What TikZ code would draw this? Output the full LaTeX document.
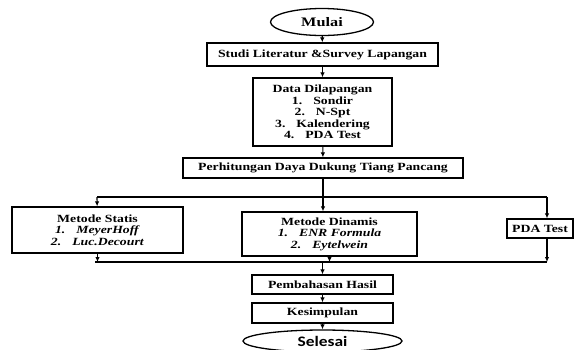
\documentclass[tikz,border=0pt]{standalone}
\usepackage{fontspec}
\setmainfont{Liberation Serif}[FakeStretch=1.25]
\newfontfamily\carlito{Carlito}[FakeStretch=1.2]
\usetikzlibrary{shapes.geometric,arrows.meta}
\begin{document}
\begin{tikzpicture}[x=1pt,y=-1pt,
  box/.style={draw,line width=1.3pt,inner sep=0pt,align=center,font=\fontsize{11}{11.5}\selectfont\bfseries},
  oval/.style={draw,ellipse,line width=1.3pt,inner sep=0pt},
  arr/.style={line width=1.1pt,-{Latex[length=5pt,width=4.5pt]}},
  ln/.style={line width=1.1pt}]
\useasboundingbox (0,0) rectangle (575,349);
\node[oval,minimum width=103pt,minimum height=27pt,font=\fontsize{13}{13}\selectfont\bfseries] (mulai) at (322,22) {Mulai};
\node[box,minimum width=231pt,minimum height=23pt] (studi) at (322.5,54.5) {Studi Literatur \&Survey Lapangan};
\node[box,minimum width=139pt,minimum height=68pt] (data) at (322.5,112) {Data Dilapangan\\1.\hspace{1em}Sondir\\2.\hspace{1em}N-Spt\\3.\hspace{1em}Kalendering\\4.\hspace{1em}PDA Test};
\node[box,minimum width=280pt,minimum height=20pt] (perh) at (323,168) {Perhitungan Daya Dukung Tiang Pancang};
\node[box,minimum width=171pt,minimum height=46pt] (statis) at (97.5,230) {Metode Statis\\\textit{1.\hspace{1em}MeyerHoff}\\\textit{2.\hspace{1em}Luc.Decourt}};
\node[box,minimum width=175pt,minimum height=44pt] (dinamis) at (329.5,234) {Metode Dinamis\\\textit{1.\hspace{1em}ENR Formula}\\\textit{2.\hspace{1em}Eytelwein}};
\node[box,minimum width=66pt,minimum height=19pt] (pda) at (540,228.5) {PDA Test};
\node[box,minimum width=141pt,minimum height=19pt] (pemb) at (322.5,284.5) {Pembahasan Hasil};
\node[box,minimum width=141pt,minimum height=20pt] (kes) at (322.5,313) {Kesimpulan};
\node[oval,minimum width=159pt,minimum height=22pt,font=\carlito\fontsize{14.5}{15}\selectfont\bfseries] (selesai) at (322.5,341) {Selesai};
\coordinate (t1) at (97,197);
\coordinate (t2) at (547,197);
\coordinate (b1) at (95,262);
\coordinate (b2) at (547,262);
\draw[arr] (mulai) -- (studi);
\draw[arr] (studi) -- (data);
\draw[arr] (data) -- (perh);
\draw[arr] (perh.south) -- (perh.south |- dinamis.north);
\draw[ln] (t1) -- (t2);
\draw[arr] (t1) -- (statis);
\draw[arr] (t2) -- (t2 |- pda.north);
\draw[ln] (b1) -- (b2);
\draw[arr] (statis) -- (statis.south |- b1);
\draw[arr] (dinamis) -- (dinamis.south |- b1);
\draw[arr] (t2 |- pda.south) -- (b2);
\draw[arr] (pemb.north |- b1) -- (pemb);
\draw[arr] (pemb) -- (kes);
\draw[arr] (kes) -- (selesai);
\end{tikzpicture}
\end{document}
